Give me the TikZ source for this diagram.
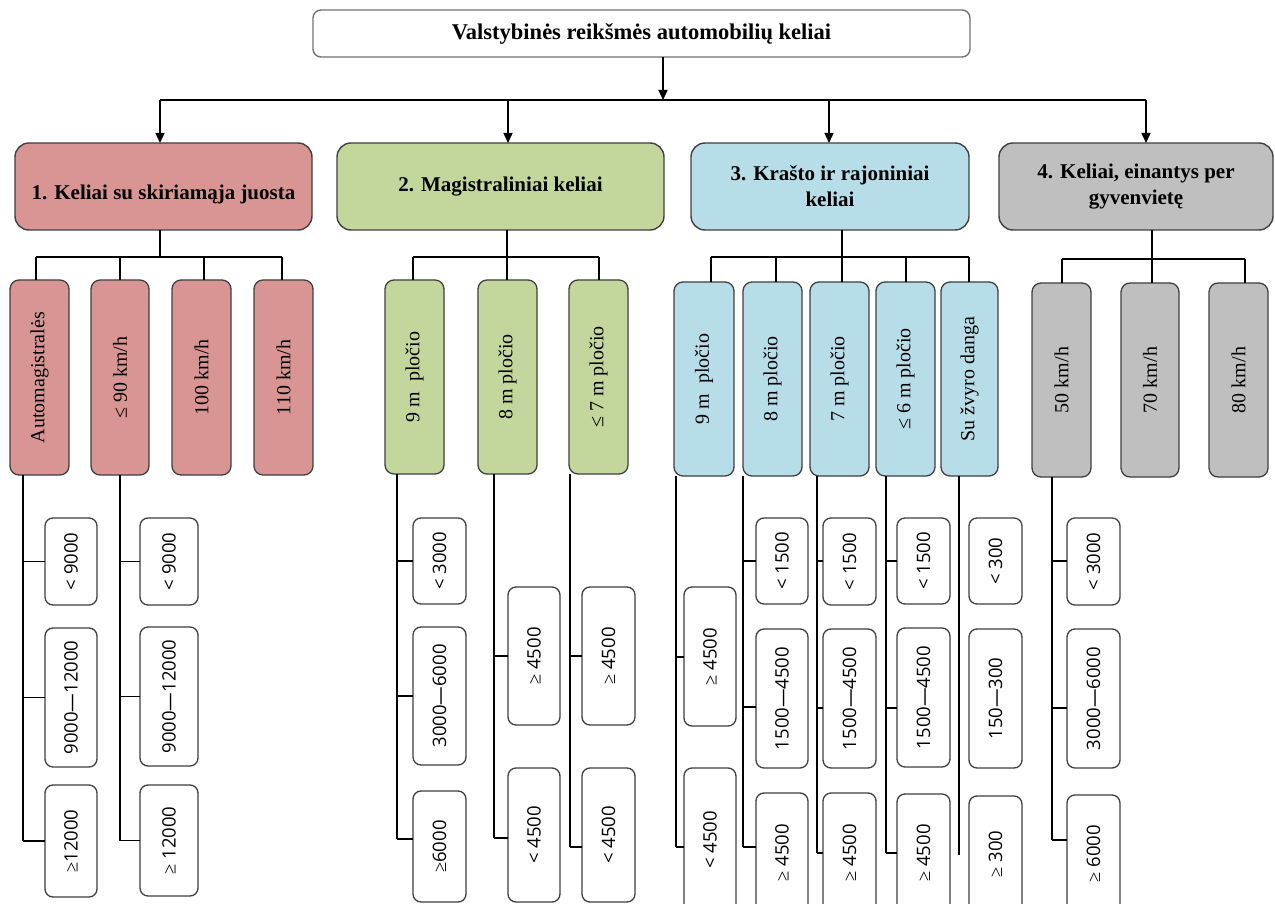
\documentclass[tikz,border=0pt]{standalone}
\usepackage{fontspec}
\usepackage{graphicx}
\setmainfont{Liberation Serif}
\newfontfamily\leaffont{Open Sans}
\usetikzlibrary{arrows.meta}
\definecolor{cred}{HTML}{D99594}
\definecolor{cgreen}{HTML}{C3D69B}
\definecolor{cblue}{HTML}{B7DDE8}
\definecolor{cgray}{HTML}{BFBFBF}
\definecolor{bord}{HTML}{404040}
\newcommand\mybox[7]{%
  \pgfmathsetmacro\cxx{(#3+#5)/2}\pgfmathsetmacro\cyy{(#4+#6)/2}%
  \pgfmathsetmacro\ww{#5-#3}\pgfmathsetmacro\hh{#6-#4}%
  \node[#1, minimum width=\ww pt, minimum height=\hh pt] (#2) at (\cxx,\cyy) {#7};}
\newcommand\mygeq{{\rmfamily ≥}}
\begin{document}
\begin{tikzpicture}[x=1pt,y=-1pt,
  topbox/.style={draw=black!55, line width=1.4pt, fill=white, rounded corners=8pt, inner sep=0pt, outer sep=0pt, font=\fontsize{22.5}{27}\selectfont\bfseries},
  cat/.style={draw=bord, line width=1.4pt, rounded corners=14pt, inner sep=0pt, outer sep=0pt, align=center, font=\fontsize{21}{26}\selectfont\bfseries},
  vb/.style={draw=bord, line width=1.3pt, rounded corners=9pt, inner sep=0pt, outer sep=0pt, font=\fontsize{20}{24}\selectfont},
  leaf/.style={draw=bord, fill=white, line width=1.3pt, rounded corners=8pt, inner sep=0pt, outer sep=0pt, font=\leaffont\fontsize{18.5}{22}\selectfont},
  conn/.style={line width=1.4pt, black},
  arr/.style={conn, -{Triangle[length=10pt,width=9pt]}}]
\useasboundingbox[fill=white] (0,0) rectangle (1275,904);

% top
\mybox{topbox}{top}{313}{10}{970}{57}{Valstybinės reikšmės automobilių keliai}
% categories
\mybox{cat,fill=cred}{c1}{15}{143}{312}{230}{\rule{0pt}{30pt}1. Keliai su skiriamąja juosta}
\mybox{cat,fill=cgreen}{c2}{337}{143}{664}{230}{2. Magistraliniai keliai}
\mybox{cat,fill=cblue}{c3}{691}{143}{969}{230}{3. Krašto ir rajoniniai\\keliai}
\mybox{cat,fill=cgray}{c4}{999}{143}{1273}{230}{4. Keliai, einantys per\\gyvenvietę}

\coordinate (busL) at (160,100);
\coordinate (busR) at (1146,100);
\draw[arr] (top.south -| 663,0) -- (663,100);
\draw[conn] (busL) -- (busR);
\draw[arr] (busL) -- (c1.north -| busL);
\draw[arr] (508,100) -- (c2.north -| 508,0);
\draw[arr] (829,100) -- (c3.north -| 829,0);
\draw[arr] (busR) -- (c4.north -| busR);

% second level
\mybox{vb,fill=cred}{a1}{10}{280}{69}{475}{\rotatebox{90}{Automagistralės}}
\mybox{vb,fill=cred}{a2}{91}{280}{149}{475}{\rotatebox{90}{≤ 90 km/h}}
\mybox{vb,fill=cred}{a3}{172}{280}{231}{475}{\rotatebox{90}{100 km/h}}
\mybox{vb,fill=cred}{a4}{254}{280}{313}{475}{\rotatebox{90}{110 km/h}}
\mybox{vb,fill=cgreen}{b1}{385}{280}{444}{474}{\rotatebox{90}{9 m\ \ pločio}}
\mybox{vb,fill=cgreen}{b2}{478}{280}{537}{474}{\rotatebox{90}{8 m pločio}}
\mybox{vb,fill=cgreen}{b3}{569}{280}{628}{474}{\rotatebox{90}{≤ 7 m pločio}}
\mybox{vb,fill=cblue}{d1}{674}{282}{734}{476}{\rotatebox{90}{9 m\ \ pločio}}
\mybox{vb,fill=cblue}{d2}{743}{282}{802}{476}{\rotatebox{90}{8 m pločio}}
\mybox{vb,fill=cblue}{d3}{810}{282}{869}{476}{\rotatebox{90}{7 m pločio}}
\mybox{vb,fill=cblue}{d4}{876}{282}{935}{476}{\rotatebox{90}{≤ 6 m pločio}}
\mybox{vb,fill=cblue}{d5}{941}{282}{998}{476}{\rotatebox{90}{Su žvyro danga}}
\mybox{vb,fill=cgray}{e1}{1032}{283}{1091}{477}{\rotatebox{90}{50 km/h}}
\mybox{vb,fill=cgray}{e2}{1121}{283}{1179}{477}{\rotatebox{90}{70 km/h}}
\mybox{vb,fill=cgray}{e3}{1209}{283}{1268}{477}{\rotatebox{90}{80 km/h}}

% buses to second level
\draw[conn] (c1.south -| 160,0) -- (160,257);
\draw[conn] (36,257) -- (282,257);
\foreach \n/\x in {a1/36,a2/120,a3/204,a4/282} \draw[conn] (\x,257) -- (\n.north -| \x,0);
\draw[conn] (c2.south -| 507,0) -- (507,257);
\draw[conn] (413,257) -- (599,257);
\foreach \n/\x in {b1/413,b2/507,b3/599} \draw[conn] (\x,257) -- (\n.north -| \x,0);
\draw[conn] (c3.south -| 842,0) -- (842,257);
\draw[conn] (711,257) -- (969,257);
\foreach \n/\x in {d1/711,d2/776,d3/842,d4/906,d5/969} \draw[conn] (\x,257) -- (\n.north -| \x,0);
\draw[conn] (c4.south -| 1152,0) -- (1152,259);
\draw[conn] (1062,259) -- (1245,259);
\foreach \n/\x in {e1/1062,e2/1152,e3/1245} \draw[conn] (\x,259) -- (\n.north -| \x,0);

% leaves
\mybox{leaf}{l11}{45}{518}{97}{605}{\rotatebox{90}{< 9000}}
\mybox{leaf}{l12}{45}{628}{97}{767}{\rotatebox{90}{9000—12000}}
\mybox{leaf}{l13}{45}{785}{97}{897}{\rotatebox{90}{\mygeq12000}}
\mybox{leaf}{l21}{140}{518}{198}{605}{\rotatebox{90}{< 9000}}
\mybox{leaf}{l22}{140}{627}{198}{766}{\rotatebox{90}{9000—12000}}
\mybox{leaf}{l23}{140}{785}{198}{896}{\rotatebox{90}{\mygeq\ 12000}}

\mybox{leaf}{m11}{413}{518}{466}{604}{\rotatebox{90}{< 3000}}
\mybox{leaf}{m12}{413}{627}{466}{765}{\rotatebox{90}{3000—6000}}
\mybox{leaf}{m13}{413}{791}{466}{902}{\rotatebox{90}{\mygeq6000}}
\mybox{leaf}{m21}{508}{587}{560}{725}{\rotatebox{90}{\mygeq\ 4500}}
\mybox{leaf}{m22}{508}{768}{560}{902}{\rotatebox{90}{< 4500}}
\mybox{leaf}{m31}{582}{587}{635}{725}{\rotatebox{90}{\mygeq\ 4500}}
\mybox{leaf}{m32}{582}{768}{635}{902}{\rotatebox{90}{< 4500}}

\mybox{leaf}{n11}{684}{587}{736}{726}{\rotatebox{90}{\mygeq\ 4500}}
\mybox{leaf}{n12}{684}{768}{736}{912}{\rotatebox{90}{< 4500}}
\mybox{leaf}{n21}{756}{518}{808}{604}{\rotatebox{90}{< 1500}}
\mybox{leaf}{n22}{756}{629}{808}{768}{\rotatebox{90}{1500—4500}}
\mybox{leaf}{n23}{756}{793}{808}{912}{\rotatebox{90}{\mygeq\ 4500}}
\mybox{leaf}{n31}{823}{518}{876}{605}{\rotatebox{90}{< 1500}}
\mybox{leaf}{n32}{823}{629}{876}{768}{\rotatebox{90}{1500—4500}}
\mybox{leaf}{n33}{823}{793}{876}{912}{\rotatebox{90}{\mygeq\ 4500}}
\mybox{leaf}{n41}{897}{518}{950}{604}{\rotatebox{90}{< 1500}}
\mybox{leaf}{n42}{897}{628}{950}{767}{\rotatebox{90}{1500—4500}}
\mybox{leaf}{n43}{897}{794}{950}{912}{\rotatebox{90}{\mygeq\ 4500}}
\mybox{leaf}{n51}{969}{518}{1022}{604}{\rotatebox{90}{< 300}}
\mybox{leaf}{n52}{969}{629}{1022}{768}{\rotatebox{90}{150—300}}
\mybox{leaf}{n53}{969}{796}{1022}{912}{\rotatebox{90}{\mygeq\ 300}}

\mybox{leaf}{o11}{1067}{518}{1120}{605}{\rotatebox{90}{< 3000}}
\mybox{leaf}{o12}{1067}{629}{1120}{768}{\rotatebox{90}{3000—6000}}
\mybox{leaf}{o13}{1067}{795}{1120}{912}{\rotatebox{90}{\mygeq\ 6000}}

% stems and branches
\draw[conn] (a1.south -| 23,0) -- (23,841);
\foreach \n in {l11,l12,l13} \draw[conn] (\n.west -| 23,0) -- (\n.west);
\draw[conn] (a2.south -| 120,0) -- (120,841);
\foreach \n in {l21,l22,l23} \draw[conn] (\n.west -| 120,0) -- (\n.west);

\draw[conn] (b1.south -| 397,0) -- (397,839);
\foreach \n in {m11,m12} \draw[conn] (\n.west -| 397,0) -- (\n.west);
\draw[conn] (397,839) -- (m13.west |- 0,839);
\draw[conn] (b2.south -| 494,0) -- (494,838);
\draw[conn] (m21.west -| 494,0) -- (m21.west);
\draw[conn] (494,838) -- (m22.west |- 0,838);
\draw[conn] (b3.south -| 570,0) -- (570,847);
\draw[conn] (m31.west -| 570,0) -- (m31.west);
\draw[conn] (570,847) -- (m32.west |- 0,847);

\draw[conn] (d1.south -| 676,0) -- (676,847);
\draw[conn] (676,657) -- (n11.west |- 0,657);
\draw[conn] (676,847) -- (n12.west |- 0,847);
\draw[conn] (d2.south -| 743,0) -- (743,847);
\draw[conn] (743,561) -- (n21.west |- 0,561);
\draw[conn] (743,707) -- (n22.west |- 0,707);
\draw[conn] (743,847) -- (n23.west |- 0,847);
\draw[conn] (d3.south -| 817,0) -- (817,853);
\draw[conn] (817,561) -- (n31.west |- 0,561);
\draw[conn] (817,708) -- (n32.west |- 0,708);
\draw[conn] (817,853) -- (n33.west |- 0,853);
\draw[conn] (d4.south -| 886,0) -- (886,853);
\draw[conn] (886,561) -- (n41.west |- 0,561);
\draw[conn] (886,708) -- (n42.west |- 0,708);
\draw[conn] (886,853) -- (n43.west |- 0,853);
\draw[conn] (d5.south -| 959,0) -- (959,855);

\draw[conn] (e1.south -| 1052,0) -- (1052,840);
\draw[conn] (1052,561) -- (o11.west |- 0,561);
\draw[conn] (1052,708) -- (o12.west |- 0,708);
\draw[conn] (1052,840) -- (o13.west |- 0,840);
\end{tikzpicture}
\end{document}
